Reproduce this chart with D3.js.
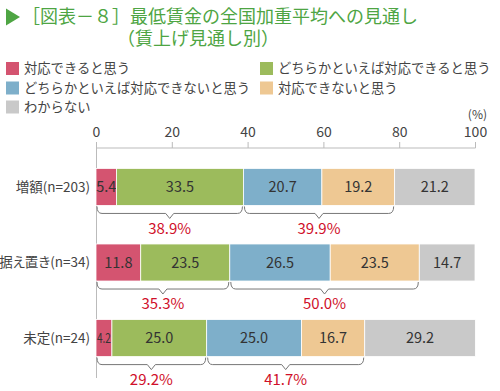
<!DOCTYPE html>
<html>
<head>
<meta charset="utf-8">
<script src="https://cdn.jsdelivr.net/npm/d3@7"></script>
<style>
body { margin: 0; background: #fff; }
text { font-family: "Noto Sans CJK JP", "Noto Sans", sans-serif; }
</style>
</head>
<body>
<div id="chart"></div>
<script>
// chart data
var categories = ["増額(n=203)", "据え置き(n=34)", "未定(n=24)"];
var seriesNames = ["対応できると思う", "どちらかといえば対応できると思う", "どちらかといえば対応できないと思う", "対応できないと思う", "わからない"];
var seriesColors = ["#d45470", "#9cbb5c", "#7eafca", "#eec893", "#c9c9c9"];
var values = [
  [5.4, 33.5, 20.7, 19.2, 21.2],
  [11.8, 23.5, 26.5, 23.5, 14.7],
  [4.2, 25.0, 25.0, 16.7, 29.2]
];
var positiveTotals = [38.9, 35.3, 29.2];
var negativeTotals = [39.9, 50.0, 41.7];
var tickValues = [0, 20, 40, 60, 80, 100];

var svgWidth = 500;
var svgHeight = 391;
var numFont = "'Noto Sans', 'Noto Sans CJK JP', sans-serif";

var svg = d3.select("#chart")
  .append("svg")
  .attr("width", svgWidth)
  .attr("height", svgHeight);

// title (two lines in one text)
var green = "#4ea543";
svg.append("path")
  .attr("d", "M6,8.5 L20,17 L6,25.5 Z")
  .attr("fill", green);
var title = svg.append("text")
  .attr("font-size", 18)
  .attr("fill", green);
title.append("tspan")
  .attr("x", 22).attr("y", 23)
  .text("［図表－８］最低賃金の全国加重平均への見通し");
title.append("tspan")
  .attr("x", 117).attr("y", 44.5)
  .text("（賃上げ見通し別）");

// legend
var legendPos = [[6, 68.5], [260, 68.5], [6, 88], [260, 88], [6, 107]];
var legend = svg.append("g");
seriesNames.forEach(function(name, i) {
  var p = legendPos[i];
  legend.append("rect")
    .attr("x", p[0]).attr("y", p[1] - 6.5)
    .attr("width", 13).attr("height", 13)
    .attr("fill", seriesColors[i]);
  legend.append("text")
    .attr("x", p[0] + 18).attr("y", p[1])
    .attr("dy", "0.36em")
    .attr("font-size", 13.3)
    .attr("fill", "#444")
    .text(name);
});

// scales
var x = d3.scaleLinear().domain([0, 100]).range([96, 475]);
var y = d3.scaleBand().domain(categories).range([148, 377]).paddingInner(0.51).paddingOuter(0.27);

// top axis
var axisG = svg.append("g")
  .attr("transform", "translate(0,148)")
  .call(d3.axisTop(x).tickValues(tickValues).tickSize(6).tickSizeOuter(0).tickPadding(5));
axisG.select(".domain").attr("stroke", "#bbb").attr("d", "M96.5,0H475.5");
axisG.selectAll(".tick line").attr("stroke", "#bbb");
axisG.selectAll(".tick text")
  .attr("font-size", 14)
  .attr("fill", "#444")
  .attr("font-family", numFont);

svg.append("text")
  .attr("x", 487).attr("y", 119)
  .attr("text-anchor", "end")
  .attr("font-size", 12)
  .attr("fill", "#444")
  .attr("font-family", numFont)
  .text("(%)");

// vertical axis line
svg.append("line")
  .attr("x1", 96.5).attr("x2", 96.5)
  .attr("y1", 148).attr("y2", 378)
  .attr("stroke", "#bbb");

// category labels
svg.selectAll(".cat")
  .data(categories)
  .enter()
  .append("text")
  .attr("class", "cat")
  .attr("x", 90)
  .attr("y", function(d) { return y(d) + y.bandwidth() / 2; })
  .attr("dy", "0.36em")
  .attr("text-anchor", "end")
  .attr("font-size", 13.5)
  .style("font-feature-settings", "'palt'")
  .attr("fill", "#444")
  .text(function(d) { return d; });

// stacked bars
var rows = values.map(function(vals, r) {
  var acc = 0;
  return vals.map(function(v, i) {
    var seg = { cat: categories[r], start: acc, end: acc + v, value: v, color: seriesColors[i] };
    acc += v;
    return seg;
  });
});

var barG = svg.append("g");
rows.forEach(function(row) {
  row.forEach(function(seg) {
    var w = x(seg.end) - x(seg.start);
    barG.append("rect")
      .attr("x", x(seg.start))
      .attr("y", y(seg.cat))
      .attr("width", w)
      .attr("height", y.bandwidth())
      .attr("fill", seg.color)
      .attr("stroke", "#fff")
      .attr("stroke-width", 0.8);
    barG.append("text")
      .attr("x", (x(seg.start) + x(seg.end)) / 2)
      .attr("y", y(seg.cat) + y.bandwidth() / 2)
      .attr("dy", "0.36em")
      .attr("text-anchor", "middle")
      .attr("font-size", w < 20 ? 13 : 14.5)
      .attr("font-family", numFont)
      .attr("textLength", w < 20 ? w - 2 : null)
      .attr("lengthAdjust", "spacingAndGlyphs")
      .attr("fill", "#333")
      .text(seg.value.toFixed(1));
  });
});

// braces under bars
function bracePath(x0, x1, top) {
  var mid = (x0 + x1) / 2;
  var r = 5, h = 7, tip = 5;
  return "M" + x0 + "," + top +
    " Q" + x0 + "," + (top + h) + " " + (x0 + r) + "," + (top + h) +
    " L" + (mid - 4) + "," + (top + h) +
    " L" + mid + "," + (top + h + tip) +
    " L" + (mid + 4) + "," + (top + h) +
    " L" + (x1 - r) + "," + (top + h) +
    " Q" + x1 + "," + (top + h) + " " + x1 + "," + top;
}

var braceG = svg.append("g");
rows.forEach(function(row, r) {
  var top = y(categories[r]) + y.bandwidth() + 1;
  var groups = [
    { s: row[0].start, e: row[1].end, label: positiveTotals[r] },
    { s: row[2].start, e: row[3].end, label: negativeTotals[r] }
  ];
  groups.forEach(function(g) {
    braceG.append("path")
      .attr("d", bracePath(x(g.s) + 1, x(g.e) - 1, top))
      .attr("fill", "none")
      .attr("stroke", "#777")
      .attr("stroke-width", 1);
    braceG.append("text")
      .attr("x", (x(g.s) + x(g.e)) / 2)
      .attr("y", top + 22)
      .attr("dy", "0.36em")
      .attr("text-anchor", "middle")
      .attr("font-size", 15)
      .attr("font-family", numFont)
      .attr("fill", "#d0102a")
      .text(g.label.toFixed(1) + "%");
  });
});
</script>
</body>
</html>
